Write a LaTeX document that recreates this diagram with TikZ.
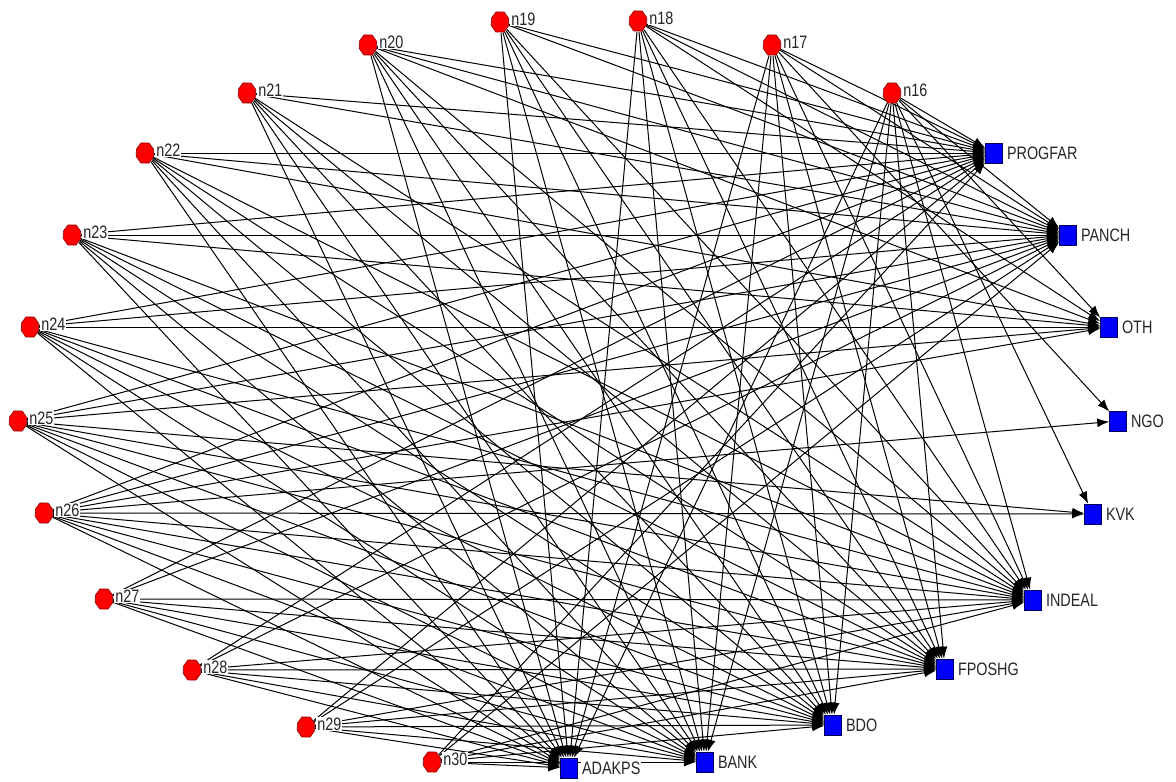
\documentclass[tikz,border=0pt]{standalone}
\usepackage{fontspec}
\setmainfont{Liberation Sans}
\newfontfamily\lblfont[FakeStretch=0.8]{Liberation Sans}
\usetikzlibrary{shapes.geometric,arrows.meta,backgrounds}
\begin{document}
\begin{tikzpicture}[x=1pt,y=-1pt,
  rednode/.style={ellipse,minimum width=18pt,minimum height=22pt,inner sep=0pt},
  redfill/.style={fill=red,draw=red!55!black,line width=0.6pt},
  bluenode/.style={rectangle,minimum width=17pt,minimum height=20pt,inner sep=0pt,
     fill=blue,draw=blue!35!black,line width=0.6pt},
  lbl/.style={font=\lblfont\fontsize{18}{20}\selectfont,text=black!85,fill=white,inner sep=1pt},
  edgeln/.style={draw=black,line width=1pt,-{Latex[length=12pt,width=9pt]}},
  every label/.style={lbl},
  label distance=1pt]
\useasboundingbox (0,0) rectangle (1176,782);
% red nodes
\foreach \n/\x/\y in {16/892/93,17/772/45,18/638/21,19/500/22,20/368/45,21/247/93,
  22/145/153,23/72/235,24/30/327,25/18/421,26/44/513,27/104/599,28/192/670,29/306/727,30/432/762}{
  \node[rednode,label={[yshift=3pt]right:n\n}] (n\n) at (\x,\y) {};
  \path[redfill] (n\n.22.5) -- (n\n.67.5) -- (n\n.112.5) -- (n\n.157.5) -- (n\n.202.5)
     -- (n\n.247.5) -- (n\n.292.5) -- (n\n.337.5) -- cycle;
}
% blue nodes
\foreach \n/\x/\y in {PROGFAR/994/153,PANCH/1068/235,OTH/1109/327,NGO/1118/421,KVK/1093/514,
  INDEAL/1033/600,FPOSHG/945/669,BDO/833/725,BANK/705/762,ADAKPS/569/768}
  \node[bluenode,label={[xshift=2pt]right:\n}] (\n) at (\x,\y) {};
\begin{scope}[on background layer]
\foreach \s in {16,...,30}
  \foreach \t in {PROGFAR,PANCH,INDEAL,FPOSHG,BDO,BANK,ADAKPS}
    \draw[edgeln] (n\s) -- (\t);
\foreach \s in {16,18,20,22,23,24,25,26}
  \draw[edgeln] (n\s) -- (OTH);
\foreach \s in {17,26}
  \draw[edgeln] (n\s) -- (NGO);
\foreach \s in {16,25,26}
  \draw[edgeln] (n\s) -- (KVK);
\end{scope}
\end{tikzpicture}
\end{document}
